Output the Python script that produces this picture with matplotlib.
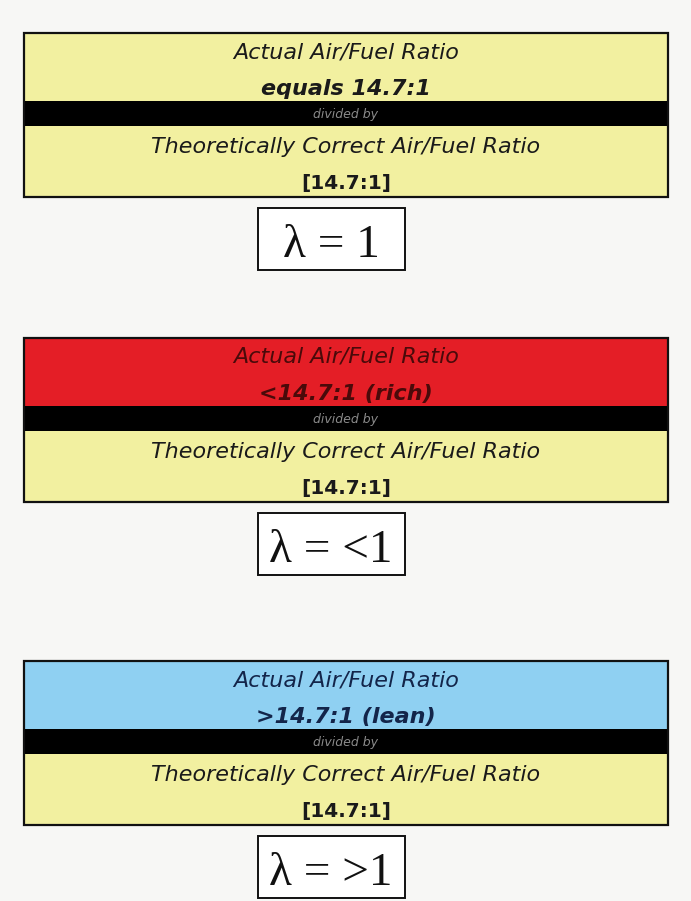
import matplotlib.pyplot as plt
from matplotlib.patches import Rectangle

# panel contents, top to bottom
top_colors = ['#f2f0a0', '#e41e26', '#8fd0f2']
top_text_colors = ['#1a1a1a', '#4a0a0a', '#13254a']
top_line1 = ['Actual Air/Fuel Ratio'] * 3
top_line2 = ['equals 14.7:1', '<14.7:1 (rich)', '>14.7:1 (lean)']
bottom_line1 = 'Theoretically Correct Air/Fuel Ratio'
bottom_line2 = '[14.7:1]'
lambda_labels = ['λ = 1', 'λ = <1', 'λ = >1']

panel_tops = [33, 338, 661]
yellow = '#f2f0a0'

fig = plt.figure(figsize=(6.91, 9.01), dpi=100)
fig.patch.set_facecolor('#f7f7f5')
ax = fig.add_axes([0, 0, 1, 1])
ax.set_xlim(0, 691)
ax.set_ylim(901, 0)
ax.axis('off')

x0, x1 = 24, 668
xc = (x0 + x1) / 2
h_top, h_band, h_bot = 68, 25, 71
sans = ['DejaVu Sans']
serif = ['Liberation Serif', 'DejaVu Serif']

for i, y0 in enumerate(panel_tops):
    w = x1 - x0
    ax.add_patch(Rectangle((x0, y0), w, h_top, facecolor=top_colors[i], edgecolor='none'))
    ax.add_patch(Rectangle((x0, y0 + h_top), w, h_band, facecolor='black', edgecolor='none'))
    ax.add_patch(Rectangle((x0, y0 + h_top + h_band), w, h_bot, facecolor=yellow, edgecolor='none'))
    ax.add_patch(Rectangle((x0, y0), w, h_top + h_band + h_bot, facecolor='none',
                           edgecolor='#111111', lw=1.6))

    ax.text(xc, y0 + 25, top_line1[i], ha='center', va='baseline', fontsize=16,
            style='italic', family=sans, color=top_text_colors[i])
    ax.text(xc, y0 + 62, top_line2[i], ha='center', va='baseline', fontsize=16,
            style='italic', weight='bold', family=sans, color=top_text_colors[i])
    ax.text(xc, y0 + h_top + h_band / 2 + 1, 'divided by', ha='center', va='center',
            fontsize=9, style='italic', family=sans, color='#8a8a8a')
    ax.text(xc, y0 + 120, bottom_line1, ha='center', va='baseline', fontsize=16,
            style='italic', family=sans, color='#1a1a1a')
    ax.text(xc, y0 + 156, bottom_line2, ha='center', va='baseline', fontsize=14.5,
            weight='bold', family=sans, color='#1a1a1a')

    # lambda box
    ly = y0 + h_top + h_band + h_bot + 11
    ax.add_patch(Rectangle((258, ly), 147, 62, facecolor='white', edgecolor='#111111', lw=1.4))
    ax.text(331, ly + 49, lambda_labels[i], ha='center', va='baseline', fontsize=34,
            family=serif, color='#111111')

fig.savefig('out.png', dpi=100, facecolor=fig.get_facecolor())
